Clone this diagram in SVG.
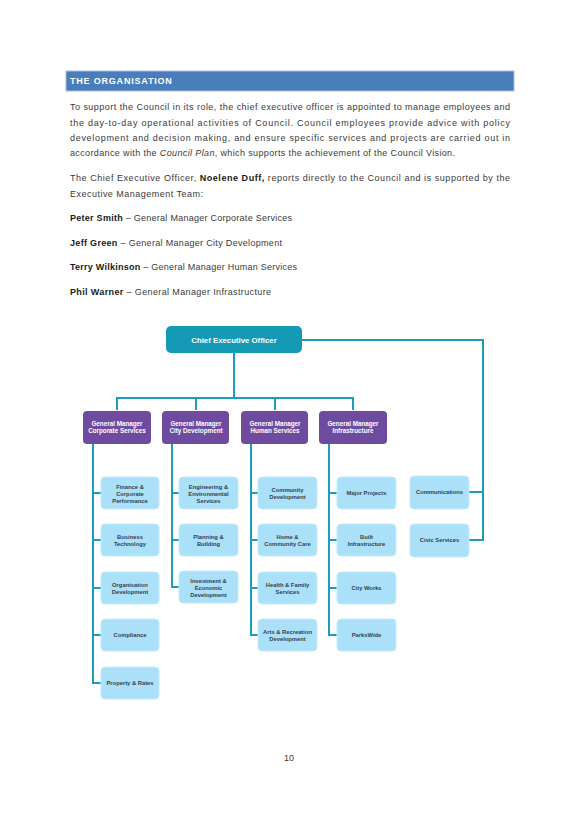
<svg xmlns="http://www.w3.org/2000/svg" width="580" height="821" viewBox="0 0 580 821">
<style>
.body{font-family:"Liberation Sans",Arial,sans-serif;font-size:9px;fill:#3a3a3a}
.b{font-weight:bold;fill:#1a1a1a}
.hdr{font-family:"Liberation Sans",Arial,sans-serif;font-size:9px;font-weight:bold;fill:#ffffff;letter-spacing:0.8px}
.ceo{fill:#159ab6}
.gm{fill:#6f4b9f}
.ch{fill:#abe0f9;stroke:#c4ebfc;stroke-width:1}
.wt{font-family:"Liberation Sans",Arial,sans-serif;font-weight:bold;fill:#ffffff;text-anchor:middle}
.ct{font-family:"Liberation Sans",Arial,sans-serif;font-size:5.8px;font-weight:bold;fill:#34404f;text-anchor:middle}
.ln{fill:none;stroke:#1b9dbb;stroke-width:2}
</style>
<rect width="580" height="821" fill="#ffffff"/>
<rect x="66" y="71" width="448" height="20" fill="#4a7dbb" stroke="#a8c0de" stroke-width="1"/>
<text class="hdr" x="70" y="83.5">THE ORGANISATION</text>
<text class="body" x="70" y="110" textLength="440" lengthAdjust="spacing">To support the Council in its role, the chief executive officer is appointed to manage employees and</text>
<text class="body" x="70" y="126" textLength="440" lengthAdjust="spacing">the day-to-day operational activities of Council. Council employees provide advice with policy</text>
<text class="body" x="70" y="141" textLength="440" lengthAdjust="spacing">development and decision making, and ensure specific services and projects are carried out in</text>
<text class="body" x="70" y="156" textLength="385" lengthAdjust="spacing">accordance with the <tspan font-style="italic">Council Plan</tspan>, which supports the achievement of the Council Vision.</text>
<text class="body" x="70" y="181" textLength="440" lengthAdjust="spacing">The Chief Executive Officer, <tspan class="b">Noelene Duff,</tspan> reports directly to the Council and is supported by the</text>
<text class="body" x="70" y="197" textLength="133" lengthAdjust="spacing">Executive Management Team:</text>
<text class="body" x="70" y="221" textLength="222" lengthAdjust="spacing"><tspan class="b">Peter Smith</tspan> – General Manager Corporate Services</text>
<text class="body" x="70" y="246" textLength="212" lengthAdjust="spacing"><tspan class="b">Jeff Green</tspan> – General Manager City Development</text>
<text class="body" x="70" y="270" textLength="227" lengthAdjust="spacing"><tspan class="b">Terry Wilkinson</tspan> – General Manager Human Services</text>
<text class="body" x="70" y="295" textLength="201" lengthAdjust="spacing"><tspan class="b">Phil Warner</tspan> – General Manager Infrastructure</text>

<g id="connectors">
<path class="ln" d="M234 353V398M117 410V398H353V410M196 398V410M275 398V410"/>
<path class="ln" d="M302 340H483V540H469M483 492H469"/>
<path class="ln" d="M93 444V683H101M93 493H101M93 540H101M93 588H101M93 635H101"/>
<path class="ln" d="M172 444V587H179M172 493H179M172 540H179"/>
<path class="ln" d="M251 444V635H258M251 493H258M251 540H258M251 588H258"/>
<path class="ln" d="M329 444V635H337M329 493H337M329 540H337M329 588H337"/>
</g>

<g id="ceo"><rect class="ceo" x="166" y="326" width="136" height="27" rx="5"/><text class="wt" x="234" y="343" font-size="7.8">Chief Executive Officer</text></g>

<g id="gm-corporate"><rect class="gm" x="83" y="411" width="68" height="33" rx="4"/><text class="wt" x="117" y="426" font-size="6.3">General Manager</text><text class="wt" x="117" y="433" font-size="6.3">Corporate Services</text></g>
<g id="gm-city"><rect class="gm" x="162" y="411" width="67" height="33" rx="4"/><text class="wt" x="196" y="426" font-size="6.3">General Manager</text><text class="wt" x="196" y="433" font-size="6.3">City Development</text></g>
<g id="gm-human"><rect class="gm" x="241" y="411" width="67" height="33" rx="4"/><text class="wt" x="275" y="426" font-size="6.3">General Manager</text><text class="wt" x="275" y="433" font-size="6.3">Human Services</text></g>
<g id="gm-infra"><rect class="gm" x="319" y="411" width="68" height="33" rx="4"/><text class="wt" x="353" y="426" font-size="6.3">General Manager</text><text class="wt" x="353" y="433" font-size="6.3">Infrastructure</text></g>

<g id="finance"><rect class="ch" x="101" y="477" width="58" height="32" rx="4"/><text class="ct" x="130" y="489">Finance &amp;</text><text class="ct" x="130" y="496">Corporate</text><text class="ct" x="130" y="503">Performance</text></g>
<g id="business"><rect class="ch" x="101" y="524" width="58" height="32" rx="4"/><text class="ct" x="130" y="539">Business</text><text class="ct" x="130" y="546">Technology</text></g>
<g id="organisation"><rect class="ch" x="101" y="572" width="58" height="32" rx="4"/><text class="ct" x="130" y="587">Organisation</text><text class="ct" x="130" y="594">Development</text></g>
<g id="compliance"><rect class="ch" x="101" y="619" width="58" height="32" rx="4"/><text class="ct" x="130" y="637">Compliance</text></g>
<g id="property"><rect class="ch" x="101" y="667" width="58" height="32" rx="4"/><text class="ct" x="130" y="685">Property &amp; Rates</text></g>

<g id="engineering"><rect class="ch" x="179" y="477" width="59" height="32" rx="4"/><text class="ct" x="208.5" y="489">Engineering &amp;</text><text class="ct" x="208.5" y="496">Environmental</text><text class="ct" x="208.5" y="503">Services</text></g>
<g id="planning"><rect class="ch" x="179" y="524" width="59" height="32" rx="4"/><text class="ct" x="208.5" y="539">Planning &amp;</text><text class="ct" x="208.5" y="546">Building</text></g>
<g id="investment"><rect class="ch" x="179" y="571" width="59" height="32" rx="4"/><text class="ct" x="208.5" y="583">Investment &amp;</text><text class="ct" x="208.5" y="590">Economic</text><text class="ct" x="208.5" y="597">Development</text></g>

<g id="community"><rect class="ch" x="258" y="477" width="59" height="32" rx="4"/><text class="ct" x="287.5" y="492">Community</text><text class="ct" x="287.5" y="499">Development</text></g>
<g id="home"><rect class="ch" x="258" y="524" width="59" height="32" rx="4"/><text class="ct" x="287.5" y="539">Home &amp;</text><text class="ct" x="287.5" y="546">Community Care</text></g>
<g id="health"><rect class="ch" x="258" y="572" width="59" height="32" rx="4"/><text class="ct" x="287.5" y="587">Health &amp; Family</text><text class="ct" x="287.5" y="594">Services</text></g>
<g id="arts"><rect class="ch" x="258" y="619" width="59" height="32" rx="4"/><text class="ct" x="287.5" y="634">Arts &amp; Recreation</text><text class="ct" x="287.5" y="641">Development</text></g>

<g id="major"><rect class="ch" x="337" y="477" width="59" height="32" rx="4"/><text class="ct" x="366.5" y="495">Major Projects</text></g>
<g id="built"><rect class="ch" x="337" y="524" width="59" height="32" rx="4"/><text class="ct" x="366.5" y="539">Built</text><text class="ct" x="366.5" y="546">Infrastructure</text></g>
<g id="cityworks"><rect class="ch" x="337" y="572" width="59" height="32" rx="4"/><text class="ct" x="366.5" y="590">City Works</text></g>
<g id="parkswide"><rect class="ch" x="337" y="619" width="59" height="32" rx="4"/><text class="ct" x="366.5" y="637">ParksWide</text></g>

<g id="communications"><rect class="ch" x="410" y="476" width="59" height="33" rx="4"/><text class="ct" x="439.5" y="494">Communications</text></g>
<g id="civic"><rect class="ch" x="410" y="524" width="59" height="33" rx="4"/><text class="ct" x="439.5" y="542">Civic Services</text></g>

<text class="body" x="289" y="761" text-anchor="middle" font-size="10">10</text>
</svg>
